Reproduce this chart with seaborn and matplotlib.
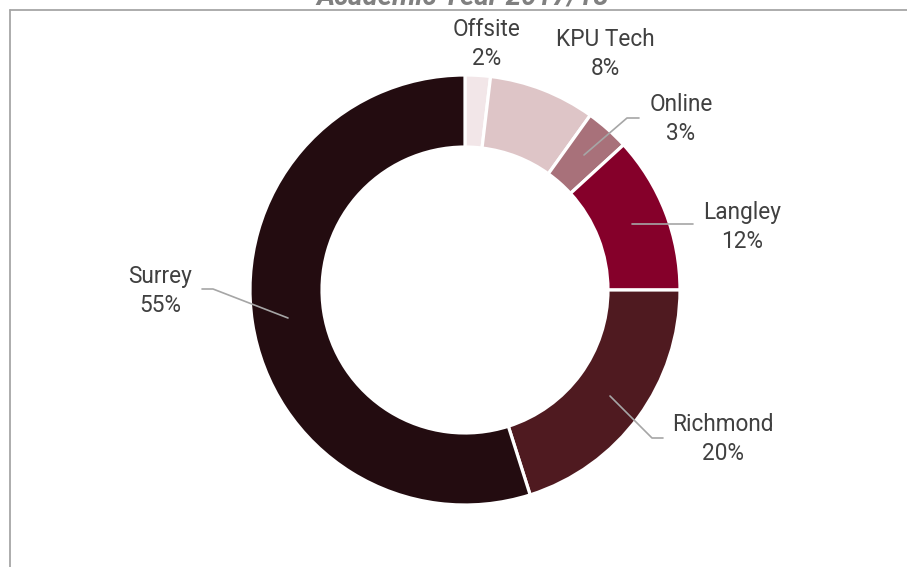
import numpy as np
import matplotlib
matplotlib.use("Agg")
import matplotlib.pyplot as plt
import seaborn as sns
from matplotlib.lines import Line2D

# campus share of students, clockwise from 12 o'clock
campuses = ["Offsite", "KPU Tech", "Online", "Langley", "Richmond", "Surrey"]
shares = [1.9, 8.0, 3.3, 11.8, 20.1, 54.9]
hex_colors = ["#F2E6E8", "#DEC5C7", "#A8717A", "#85002A", "#4F1A20", "#230C10"]
title = "Academic Year 2017/18"

sns.set_theme(style="white")
plt.rcParams["font.family"] = ["Roboto", "DejaVu Sans"]

W, H = 907, 567
fig = plt.figure(figsize=(W / 100, H / 100), dpi=100)
fig.patch.set_facecolor("white")

# pie centre (465, 290) px, radius 215 px
cx, cy, R = 465, 290, 215
ax = fig.add_axes([(cx - R) / W, (H - cy - R) / H, 2 * R / W, 2 * R / H])
palette = sns.color_palette(hex_colors)
wedges, _ = ax.pie(shares, colors=palette, startangle=90, counterclock=False,
                   radius=1, wedgeprops=dict(width=0.335, edgecolor="white", linewidth=2.3))
ax.set_xlim(-1, 1)
ax.set_ylim(-1, 1)
ax.set_aspect("equal")
ax.axis("off")


def px(x, y):
    # pixel position -> data coords of the pie axes
    return (x - cx) / R, (cy - y) / R


# label centres and leader lines in pixel space
label_pos = {
    "Offsite": (487, 44),
    "KPU Tech": (605, 54),
    "Online": (681, 119),
    "Langley": (742, 227),
    "Richmond": (723, 439),
    "Surrey": (160, 291),
}
leaders = {
    "Online": [(639, 118), (627, 118), (584, 155)],
    "Langley": [(693, 224), (632, 224)],
    "Richmond": [(663, 438), (652, 438), (610, 396)],
    "Surrey": [(202, 289), (213, 289), (288, 318)],
}

for name, val in zip(campuses, shares):
    x, y = px(*label_pos[name])
    ax.text(x, y, f"{name}\n{round(val):.0f}%", ha="center", va="center",
            fontsize=16.3, color="#404040", linespacing=1.3, clip_on=False)
    if name in leaders:
        pts = np.array([px(a, b) for a, b in leaders[name]])
        ax.plot(pts[:, 0], pts[:, 1], color="#A6A6A6", lw=1.2, clip_on=False, zorder=5)

# chart border (only left and top visible in the crop)
bx, by = 9.5 / W, 1 - 9.5 / H
fig.add_artist(Line2D([bx, bx], [0, by], color="#A6A6A6", lw=1.3, transform=fig.transFigure))
fig.add_artist(Line2D([bx, 1], [by, by], color="#A6A6A6", lw=1.3, transform=fig.transFigure))

fig.text(463 / W, 1 - 4 / H, title, ha="center", va="baseline", fontsize=20,
         style="italic", fontweight="bold", color="#808080")

fig.savefig("out.png", dpi=100)
